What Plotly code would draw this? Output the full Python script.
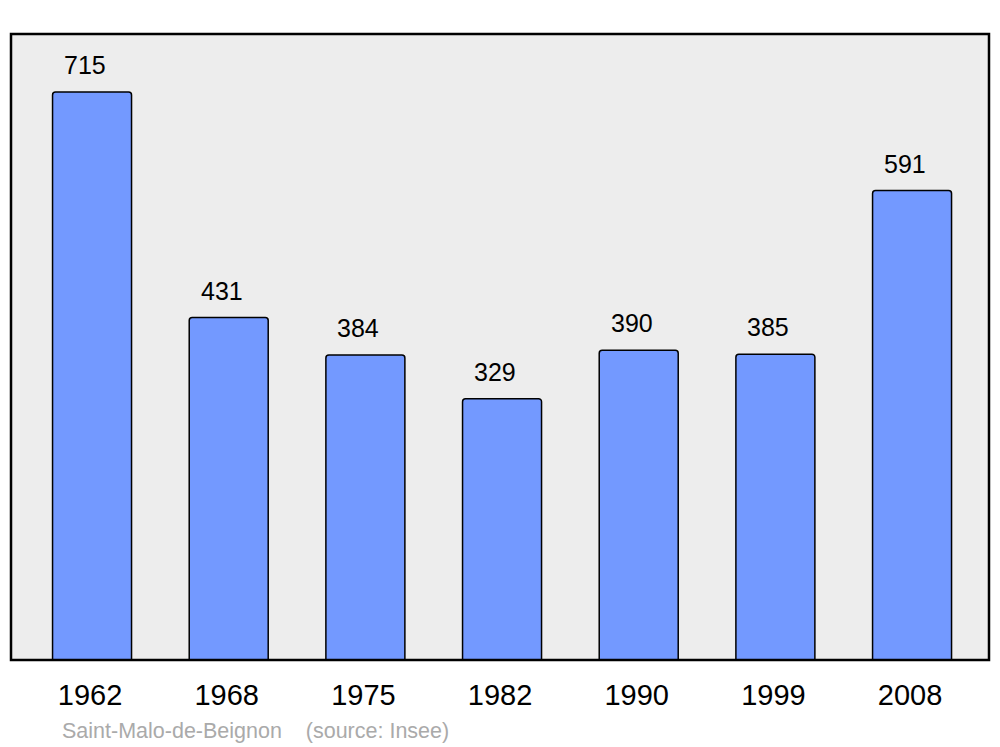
import plotly.graph_objects as go

years = ["1962", "1968", "1975", "1982", "1990", "1999", "2008"]
population = [715, 431, 384, 329, 390, 385, 591]
footer = "Saint-Malo-de-Beignon    (source: Insee)"

xs = list(range(len(years)))
FONT = "Liberation Sans, Arial, sans-serif"

fig = go.Figure()
fig.add_trace(go.Bar(
    x=xs, y=population, width=0.578,
    marker=dict(color="#7399ff", line=dict(color="#000000", width=1.5), cornerradius=3),
    hoverinfo="skip",
))

for x, v in zip(xs, population):
    fig.add_annotation(x=x, y=v, text=str(v), showarrow=False, yanchor="bottom",
                       yshift=11, xshift=-7,
                       font=dict(family=FONT, size=25, color="#000000"))

fig.add_annotation(xref="paper", yref="paper", x=0.05, y=-0.091, xanchor="left", yanchor="top",
                   text=footer.replace("    ", "&nbsp;&nbsp;&nbsp;&nbsp;"), showarrow=False,
                   font=dict(family=FONT, size=21.5, color="#aaaaaa"))

fig.add_shape(type="rect", xref="paper", yref="paper", x0=0, y0=0, x1=1, y1=1,
              line=dict(color="#000000", width=2.5), layer="above")

fig.update_layout(
    width=1000, height=747,
    margin=dict(l=11, r=11, t=34, b=87),
    paper_bgcolor="#ffffff", plot_bgcolor="#ededed",
    showlegend=False,
    xaxis=dict(range=[-0.593, 6.563], tickvals=xs, ticktext=years, showgrid=False,
               zeroline=False, showline=False, ticks="", ticklabelstandoff=15,
               ticklabelshift=-2,
               tickfont=dict(family=FONT, size=29, color="#000000")),
    yaxis=dict(range=[0, 788], showgrid=False, zeroline=False, showticklabels=False, ticks=""),
)

fig.write_html("out.html", config={"displayModeBar": False, "staticPlot": True},
               post_script="document.body.style.margin='0';document.body.style.overflow='hidden';")
